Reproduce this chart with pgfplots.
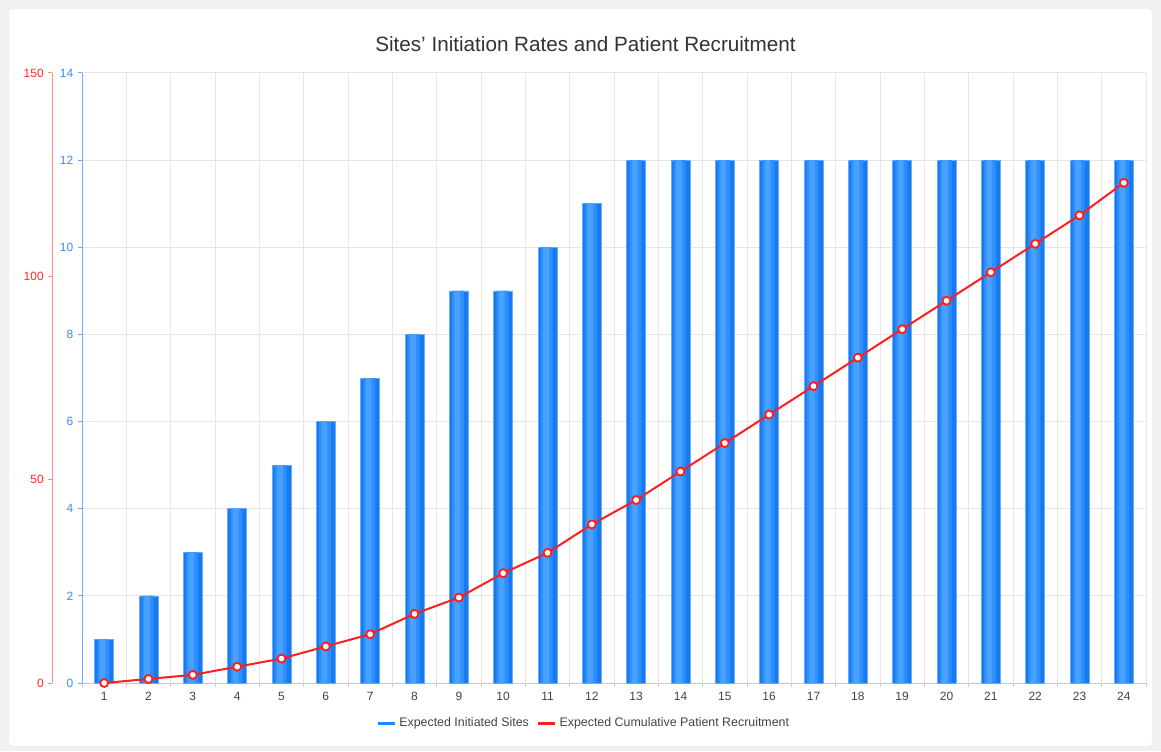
\documentclass[border=0pt]{standalone}
\usepackage{pgfplots}
\pgfplotsset{compat=1.18}
\usepackage{fontspec}
\setmainfont{Liberation Sans}
\definecolor{bggray}{RGB}{240,240,240}
\definecolor{titlec}{RGB}{51,51,51}
\definecolor{gridc}{RGB}{230,230,230}
\definecolor{xaxisc}{RGB}{200,200,200}
\definecolor{blueaxis}{RGB}{110,170,250}
\definecolor{bluetext}{RGB}{60,140,245}
\definecolor{redaxis}{RGB}{255,140,140}
\definecolor{redtext}{RGB}{255,40,40}
\definecolor{linered}{RGB}{255,30,30}
\definecolor{barA}{RGB}{22,122,242}
\definecolor{barB}{RGB}{45,142,252}
\definecolor{barC}{RGB}{72,160,255}
\definecolor{barEdge}{RGB}{110,170,245}
\definecolor{barblue}{RGB}{30,136,255}
\definecolor{labelc}{RGB}{68,68,68}

\pgfplotstableread{
x sites patients
1 1 0
2 2 1
3 3 2
4 4 4
5 5 6
6 6 9
7 7 12
8 8 17
9 9 21
10 9 27
11 10 32
12 11 39
13 12 45
14 12 52
15 12 59
16 12 66
17 12 73
18 12 80
19 12 87
20 12 94
21 12 101
22 12 108
23 12 115
24 12 123
}\datatable

\begin{document}
\begin{tikzpicture}[x=0.75pt,y=0.75pt]
\fill[bggray] (0,0) rectangle (1161,751);
\fill[white, rounded corners=3pt] (9,5) rectangle (1152,742);
\node[font=\fontsize{15.5}{18}\selectfont, text=titlec] at (585.5,707) {Sites' Initiation Rates and Patient Recruitment};

\begin{axis}[
  at={(61.5pt,51pt)}, anchor=south west, scale only axis,
  width=798pt, height=457.5pt,
  xmin=0.5, xmax=24.5, ymin=0, ymax=14,
  axis lines*=left,
  x axis line style={draw=xaxisc, line width=0.75pt},
  y axis line style={draw=blueaxis, line width=0.75pt},
  ytick={0,2,...,14},
  yticklabel style={text=bluetext, font=\fontsize{9}{11}\selectfont},
  ytick style={draw=blueaxis, line width=0.75pt},
  xtick={0.5,1.5,...,24.5},
  xticklabels={},
  xtick style={draw=xaxisc, line width=0.75pt},
  extra x ticks={1,2,...,24},
  extra x tick labels={1,2,3,4,5,6,7,8,9,10,11,12,13,14,15,16,17,18,19,20,21,22,23,24},
  extra x tick style={major tick length=0pt, grid=none, xticklabel style={text=labelc, font=\fontsize{9}{11}\selectfont, yshift=-3.6pt}},
  tick align=outside,
  major tick length=3pt,
  xmajorgrids=true, ymajorgrids=true,
  major grid style={draw=gridc, line width=0.75pt},
  /pgf/number format/assume math mode=true,
]
\addplot[ybar, bar width=14.25pt, bar shift=0pt, draw=barEdge, line width=0.4pt, fill=barA]
  table[x=x, y=sites] {\datatable};
\addplot[ybar, bar width=9pt, bar shift=-0.6pt, draw=none, fill=barB]
  table[x=x, y=sites] {\datatable};
\addplot[ybar, bar width=4.5pt, bar shift=-1.1pt, draw=none, fill=barC]
  table[x=x, y=sites] {\datatable};
\end{axis}

\begin{axis}[
  at={(61.5pt,51pt)}, anchor=south west, scale only axis,
  width=798pt, height=457.5pt,
  xmin=0.5, xmax=24.5, ymin=0, ymax=150,
  axis x line=none,
  axis y line*=left,
  y axis line style={draw=redaxis, line width=0.75pt, xshift=-22.2pt},
  ytick style={draw=redaxis, line width=0.75pt, xshift=-22.2pt},
  yticklabel style={text=redtext, font=\fontsize{9}{11}\selectfont, xshift=-22.2pt},
  ytick={0,50,100,150},
  tick align=outside,
  major tick length=3pt,
  /pgf/number format/assume math mode=true,
  legend style={at={(0.472,-0.0656)}, anchor=center, draw=none, fill=none,
    legend columns=2, font=\fontsize{9.3}{11}\selectfont, text=labelc,
    /tikz/every even column/.append style={column sep=4pt},
    legend cell align=left},
  legend image code/.code={\draw[#1, line width=2.25pt] (0pt,0pt) -- (12.75pt,0pt);},
]
\addlegendimage{barblue}
\addlegendentry{Expected Initiated Sites}
\addplot[color=linered, line width=1.5pt, mark=*, mark size=3pt,
  mark options={fill=white, draw=linered, line width=1.4pt}]
  table[x=x, y=patients] {\datatable};
\addlegendentry{Expected Cumulative Patient Recruitment}
\end{axis}
\end{tikzpicture}
\end{document}
